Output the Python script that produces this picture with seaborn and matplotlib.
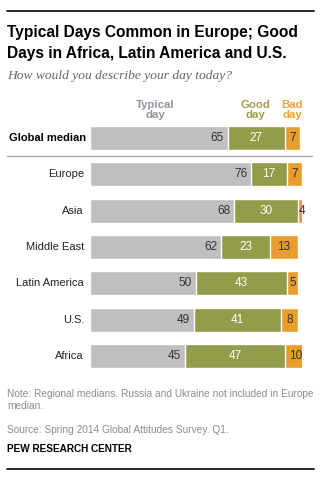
import matplotlib
matplotlib.use("Agg")
import matplotlib.pyplot as plt
import seaborn as sns
import pandas as pd
from matplotlib.lines import Line2D

regions = ["Global median", "Europe", "Asia", "Middle East", "Latin America", "U.S.", "Africa"]
typical = [65, 76, 68, 62, 50, 49, 45]
good = [27, 17, 30, 23, 43, 41, 47]
bad = [7, 7, 4, 13, 5, 8, 10]

title_lines = ["Typical Days Common in Europe; Good", "Days in Africa, Latin America and U.S."]
subtitle = "How would you describe your day today?"
headers = ["Typical\nday", "Good\nday", "Bad\nday"]
note = "Note: Regional medians. Russia and Ukraine not included in Europe\nmedian."
source = "Source: Spring 2014 Global Attitudes Survey. Q1."
credit = "PEW RESEARCH CENTER"

C_TYP = "#BFBFBF"
C_GOOD = "#939C49"
C_BAD = "#E89D2E"
H_TYP = "#9494A0"
H_GOOD = "#A09E4C"
H_BAD = "#E9A43A"

sns.set_theme(style="white")
plt.rcParams["font.family"] = ["Liberation Sans", "DejaVu Sans"]

W, H = 322, 491
fig = plt.figure(figsize=(W / 100, H / 100), dpi=100)

def fx(x):
    return x / W

def fy(y):
    return 1 - y / H

# axes: x 90..302 px for 0..100 ; rows centered at 138 .. 356
row0, rowN = 138, 356
step = (rowN - row0) / (len(regions) - 1)
top_px = row0 - step / 2
bot_px = rowN + step / 2
ax = fig.add_axes([fx(90), fy(bot_px), (302 - 90) / W, (bot_px - top_px) / H])

df = pd.DataFrame({"region": regions, "typical": typical, "good": good, "bad": bad})
df["tg"] = df["typical"] + df["good"]
df["total"] = df["tg"] + df["bad"]

bw = 24 / step
sns.barplot(data=df, x="total", y="region", order=regions, color=C_BAD, saturation=1,
            width=bw, orient="h", ax=ax)
sns.barplot(data=df, x="tg", y="region", order=regions, color=C_GOOD, saturation=1,
            width=bw, orient="h", ax=ax)
sns.barplot(data=df, x="typical", y="region", order=regions, color=C_TYP, saturation=1,
            width=bw, orient="h", ax=ax)

ax.set_xlim(0, 100)
ax.set_ylim(len(regions) - 0.5, -0.5)
ax.axis("off")

px_per_unit = 212 / 100
fs_val = 8.5
for i, r in df.iterrows():
    ax.text(r["typical"] - 4 / px_per_unit, i, str(r["typical"]), ha="right", va="center",
            fontsize=fs_val, color="#333333")
    ax.text(r["typical"] + r["good"] / 2, i, str(r["good"]), ha="center", va="center",
            fontsize=fs_val, color="white")
    ax.text(r["tg"] + r["bad"] / 2, i, str(r["bad"]), ha="center", va="center",
            fontsize=fs_val, color="#333333")

# category labels
for i, name in enumerate(regions):
    y = row0 + i * step
    if i == 0:
        fig.text(fx(86), fy(y), name, ha="right", va="center", fontsize=8,
                 fontweight="bold", color="black")
    else:
        fig.text(fx(84), fy(y), name, ha="right", va="center", fontsize=8, color="#222222")

# headers
for txt, x, c in zip(headers, [155, 255, 292], [H_TYP, H_GOOD, H_BAD]):
    fig.text(fx(x), fy(110), txt, ha="center", va="center", fontsize=8.2, fontweight="bold",
             color=c, linespacing=1.1)

# title etc
fig.add_artist(Line2D([fx(7), fx(314)], [fy(11), fy(11)], color="black", lw=1.2))
for k, line in enumerate(title_lines):
    fig.text(fx(7), fy(37 + 21 * k), line, ha="left", va="baseline", fontsize=11.2,
             fontweight="bold", color="black")
fig.text(fx(7), fy(76), subtitle, ha="left", va="center", fontsize=9.7, style="italic",
         color="#666666", family=["Liberation Serif", "DejaVu Serif"])

fig.add_artist(Line2D([fx(7), fx(312)], [fy(156), fy(156)], color="#AAAAAA", lw=1))

fig.text(fx(7), fy(389), note, ha="left", va="top", fontsize=7.25, color="#8C8C8C",
         linespacing=1.2)
fig.text(fx(7), fy(430), source, ha="left", va="center", fontsize=7.25, color="#8C8C8C")
fig.text(fx(7), fy(449), credit, ha="left", va="center", fontsize=7.2, fontweight="bold",
         color="black")
fig.add_artist(Line2D([fx(7), fx(314)], [fy(469), fy(469)], color="black", lw=1.2))

fig.savefig("out.png", dpi=100)
